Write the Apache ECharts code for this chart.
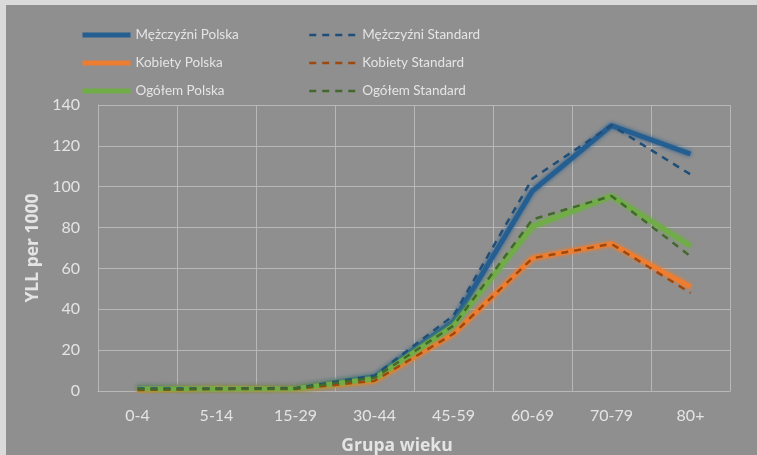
<!DOCTYPE html>
<html><head><meta charset="utf-8">
<script src="https://cdn.jsdelivr.net/npm/echarts@6/dist/echarts.min.js"></script>
<style>
html,body{margin:0;padding:0;background:#dadada;}
#c{position:absolute;left:6px;top:5px;width:751px;height:450px;background:#8f8f8f;}
</style></head><body><div id="c"></div>
<script>
const categories = ['0-4','5-14','15-29','30-44','45-59','60-69','70-79','80+'];
const menPolska = [1.5, 1.2, 1.5, 7, 34, 98, 130, 116];
const womenPolska = [0.5, 1.2, 1.0, 5, 28, 65, 72, 51];
const totalPolska = [1.0, 1.0, 1.2, 6, 32, 80.5, 95.5, 71];
const menStandard = [1.2, 1.2, 1.5, 7.5, 37, 104, 130, 106];
const womenStandard = [0.5, 1.0, 1.0, 5, 28, 65, 72, 48];
const totalStandard = [0.8, 1.0, 1.2, 6.5, 32, 84, 95.5, 66];
const yTicks = [0, 20, 40, 60, 80, 100, 120, 140];

const chart = echarts.init(document.getElementById('c'));
const txt = '#e4e4e4';
const font = 'Lato';
const colors = {
  mp:'#255e91', kp:'#ed7d31', op:'#70ad47',
  ms:'#1f4e79', ks:'#9e480e', os:'#43682b'
};
function solid(name, data, color) {
  return {name, type:'line', data, symbol:'none', smooth:false,
    lineStyle:{color, width:4.8, shadowColor:color, shadowBlur:4},
    itemStyle:{color}, z:2};
}
function dashed(name, data, color) {
  return {name, type:'line', data, symbol:'none',
    lineStyle:{color, width:2.5, type:[7,6]}, itemStyle:{color}, z:3};
}
function legItem(name, color, isDash) {
  return {name, itemStyle:{opacity:0},
    lineStyle: isDash ? {color, width:2.5, type:[7,6], opacity:1} : {color, width:5, opacity:1}};
}
const legText = {color:txt, fontSize:13.5, fontFamily:font, lineHeight:14};
chart.setOption({
  animation:false,
  textStyle:{fontFamily:font},
  grid:{left:92, right:27, top:100, bottom:64},
  legend:[
    {data:[legItem('Mężczyźni Polska',colors.mp,false),legItem('Kobiety Polska',colors.kp,false),legItem('Ogółem Polska',colors.op,false)],
     orient:'vertical', left:74, top:23, itemWidth:48, itemHeight:14, itemGap:14, padding:0,
     textStyle:legText},
    {data:[legItem('Mężczyźni Standard',colors.ms,true),legItem('Kobiety Standard',colors.ks,true),legItem('Ogółem Standard',colors.os,true)],
     orient:'vertical', left:302, top:23, itemWidth:48, itemHeight:14, itemGap:14, padding:0,
     textStyle:legText}
  ],
  xAxis:{type:'category', data:categories, boundaryGap:true,
    axisLine:{lineStyle:{color:'#b8b8b8', width:1}}, axisTick:{show:false},
    axisLabel:{color:txt, fontSize:16, margin:17, fontFamily:font},
    splitLine:{show:true, lineStyle:{color:'#b8b8b8', width:1}}},
  yAxis:{type:'value', min:0, max:140, interval:20,
    axisLine:{show:true, lineStyle:{color:'#b8b8b8'}}, axisTick:{show:false},
    axisLabel:{color:txt, fontSize:16, margin:18, fontFamily:font,
      formatter:v => yTicks.includes(v) ? String(v) : ''},
    splitLine:{lineStyle:{color:'#b8b8b8', width:1}}},
  graphic:[
    {type:'text', x:27, y:243, rotation:Math.PI/2, style:{text:'YLL per 1000', fill:txt, font:'bold 17.5px "Open Sans"', align:'center', verticalAlign:'middle'}},
    {type:'text', x:391, y:441, style:{text:'Grupa wieku', fill:txt, font:'bold 17.5px "Open Sans"', align:'center', verticalAlign:'middle'}}
  ],
  series:[
    solid('Mężczyźni Polska', menPolska, colors.mp),
    solid('Kobiety Polska', womenPolska, colors.kp),
    solid('Ogółem Polska', totalPolska, colors.op),
    dashed('Mężczyźni Standard', menStandard, colors.ms),
    dashed('Kobiety Standard', womenStandard, colors.ks),
    dashed('Ogółem Standard', totalStandard, colors.os)
  ]
});
</script></body></html>
